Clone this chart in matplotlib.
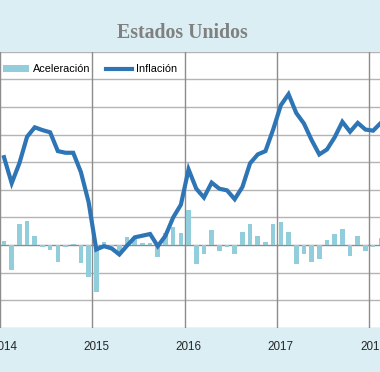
import matplotlib
matplotlib.use("Agg")
import matplotlib.pyplot as plt
from matplotlib.patches import Patch
from matplotlib.lines import Line2D

# ---------------- DATA (monthly, Jan 2014 .. Feb 2018) ----------------
years = ["2014", "2015", "2016", "2017", "2018"]

inflacion = [
    1.59, 1.12, 1.48, 1.96, 2.13, 2.08, 2.04, 1.70, 1.67, 1.67, 1.32, 0.78,      # 2014
    -0.08, -0.02, -0.06, -0.17, -0.01, 0.14, 0.17, 0.20, -0.02, 0.17, 0.50, 0.73,  # 2015
    1.37, 1.02, 0.86, 1.13, 1.02, 0.99, 0.83, 1.05, 1.48, 1.64, 1.70, 2.09,      # 2016
    2.53, 2.73, 2.39, 2.20, 1.90, 1.64, 1.73, 1.95, 2.23, 2.05, 2.21, 2.09,      # 2017
    2.07, 2.21,                                                                  # 2018
]

aceleracion = [
    0.08, -0.45, 0.39, 0.44, 0.17, -0.04, -0.08, -0.30, -0.04, 0.02, -0.33, -0.57,
    -0.84, 0.06, -0.02, -0.12, 0.14, 0.15, 0.04, 0.03, -0.22, 0.21, 0.33, 0.22,
    0.63, -0.35, -0.17, 0.27, -0.10, -0.03, -0.17, 0.23, 0.39, 0.17, 0.05, 0.38,
    0.42, 0.23, -0.35, -0.17, -0.31, -0.25, 0.09, 0.20, 0.29, -0.19, 0.16, -0.10,
    -0.03, 0.12,
]

# ---------------- STYLE ----------------
BG = "#DAEEF3"
LINE_C = "#2E75B6"
BAR_C = "#92CDDC"
GRID_C = "#B4B4B4"
VLINE_C = "#8C8C8C"
W, H = 380, 372

fig = plt.figure(figsize=(W / 100, H / 100), dpi=100, facecolor=BG)
# plot area: white band from y=51.6px to y=328px, full width (cropped chart)
ax = fig.add_axes([0, (H - 328) / H, 1, (328 - 51.6) / H], facecolor="white")

x = list(range(len(inflacion)))
x0_px, step_px = 4.0, 7.69
ax.set_xlim(-x0_px / step_px, (W - x0_px) / step_px)
ax.set_ylim(-1.5, 3.5)

for v in [i * 0.5 for i in range(-3, 8)]:
    ax.axhline(v, color=VLINE_C if v == 0 else GRID_C, lw=1.0, zorder=1)
for k in range(len(years)):
    ax.axvline(12 * k - 0.5, color=VLINE_C, lw=1.0, zorder=1)

ax.bar(x, aceleracion, width=0.6, color=BAR_C, zorder=2)
ax.plot(x, inflacion, color=LINE_C, lw=3.0, solid_joinstyle="miter", zorder=3)

for s in ax.spines.values():
    s.set_visible(False)
ax.set_yticks([])
ax.set_xticks([12 * k for k in range(len(years))])
ax.set_xticklabels(years, fontsize=8.4, family="Liberation Sans", color="#262626")
ax.tick_params(axis="x", length=0, pad=9)

fig.text(182.7 / W, 1 - 33 / H, "Estados Unidos", ha="center", va="center",
         family="Liberation Serif", fontweight="bold", fontsize=14.3, color="#808080")

handles = [Patch(facecolor=BAR_C, edgecolor="none"),
           Line2D([0], [0], color=LINE_C, lw=3.0)]
fig.legend(handles, ["Aceleración", "Inflación"], ncol=2, frameon=False,
           loc="center left", bbox_to_anchor=(3.3 / W, 1 - 69.3 / H),
           borderaxespad=0, borderpad=0, handlelength=2.4, handleheight=0.7,
           handletextpad=0.3, columnspacing=1.5,
           prop={"family": "Liberation Sans", "size": 7.8})

fig.savefig("out.png", dpi=100, facecolor=BG)
